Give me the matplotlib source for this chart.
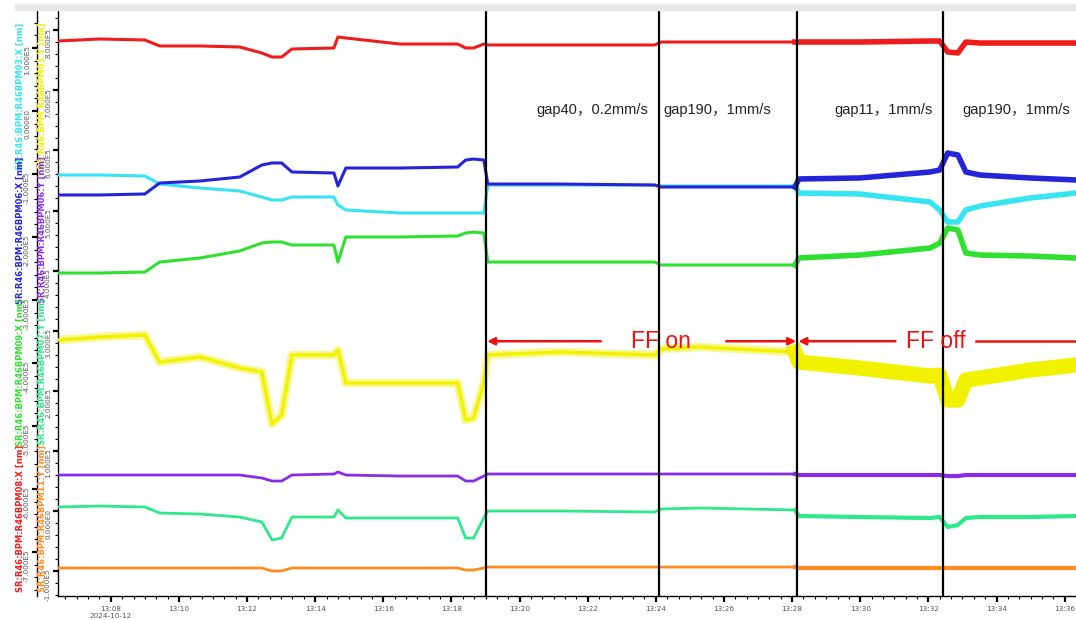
import matplotlib
matplotlib.use("Agg")
import matplotlib.pyplot as plt
import matplotlib.dates as mdates
import matplotlib.transforms as mtransforms
from matplotlib.ticker import FuncFormatter, MultipleLocator, AutoMinorLocator
from matplotlib.patches import Rectangle
import pandas as pd

DAY = "2024-10-12"

sample_times = ["13:06:27", "13:07:41", "13:09:00", "13:09:26", "13:10:37", "13:11:47",
                "13:12:26", "13:12:44", "13:13:01", "13:13:19", "13:14:33", "13:14:40",
                "13:14:54", "13:16:29", "13:18:11", "13:18:25", "13:18:39", "13:18:57",
                "13:19:04", "13:21:11", "13:23:58", "13:24:09", "13:25:18", "13:28:05",
                "13:28:12", "13:29:59", "13:32:03", "13:32:20", "13:32:34", "13:32:52",
                "13:33:06", "13:33:31", "13:34:59", "13:36:20"]

# horizontal BPM readings [nm] (outer axis)
bpm08_x = [111100, 114300, 112700, 103200, 103200, 101600, 92100, 85700, 85700, 98400,
           100000, 117500, 115900, 106300, 106300, 100000, 100000, 106300, 104800, 104800,
           104800, 109500, 109500, 109500, 109500, 109500, 111100, 111100, 93700, 92100,
           109500, 107900, 107900, 107900]
bpm03_x = [-101600, -101600, -103200, -115900, -122200, -127000, -136500, -141300, -141300,
           -136500, -136500, -149200, -157100, -161900, -161900, -161900, -161900, -161900,
           -117500, -117500, -117500, -119000, -119000, -119000, -130200, -131700, -144400,
           -157100, -176200, -176200, -157100, -150800, -138100, -130200]
bpm06_x = [-133300, -133300, -131700, -114300, -111100, -104800, -85700, -82500, -82500,
           -96800, -98400, -119000, -90500, -90500, -88900, -77800, -76200, -77800,
           -115900, -115900, -117500, -120600, -120600, -120600, -107900, -106300, -96800,
           -93700, -66700, -69800, -96800, -101600, -106300, -109500]
bpm09_x = [-257100, -257100, -255600, -239700, -233300, -222200, -209500, -207900, -207900,
           -212700, -212700, -239700, -200000, -200000, -198400, -193700, -192100, -193700,
           -239700, -239700, -239700, -244400, -244400, -244400, -233300, -228600, -217500,
           -209500, -185700, -188900, -225400, -228600, -230200, -233300]

# vertical BPM readings [nm] (inner axis)
bpm03_y = [284500, 289500, 292800, 247900, 256200, 237900, 231300, 144800, 159700, 259600,
           259600, 267900, 213000, 213000, 213000, 151400, 154700, 213000, 259600, 264600,
           259600, 269600, 272900, 264600, 247900, 237900, 224600, 226300, 184700, 184700,
           218000, 221300, 234600, 242900]
bpm06_y = [59900, 59900, 59900, 59900, 59900, 59900, 54900, 49900, 49900, 59900,
           61600, 64900, 59900, 58200, 58200, 49900, 49900, 58200, 61600, 61600,
           61600, 61600, 61600, 61600, 59900, 59900, 59900, 59900, 58200, 58200,
           59900, 59900, 59900, 59900]
bpm07_y = [6700, 8300, 6700, -3300, -5000, -10000, -18300, -48300, -44900, -10000,
           -10000, 1700, -11600, -11600, -11600, -44900, -44900, -11600, 0, 0,
           -1700, 3300, 5000, 1700, -8300, -10000, -11600, -10000, -26600, -23300,
           -11600, -10000, -10000, -8300]
bpm11_y = [-94800, -94800, -94800, -94800, -94800, -94800, -94800, -99800, -99800, -94800,
           -94800, -94800, -94800, -94800, -94800, -98200, -98200, -94800, -93200, -93200,
           -93200, -93200, -93200, -93200, -94800, -94800, -94800, -94800, -94800, -94800,
           -94800, -94800, -94800, -94800]

marker_times = ["13:19:00", "13:24:05", "13:28:08", "13:32:26"]
gap_labels = ["gap40，0.2mm/s", "gap190，1mm/s", "gap11，1mm/s", "gap190，1mm/s"]
gap_label_times = ["13:20:29", "13:24:13", "13:29:15", "13:33:00"]
x_range = ["13:06:27", "13:36:20"]

RED = "#ee1c1c"
CYAN = "#38e4f2"
BLUE = "#2424d8"
GREEN = "#30e030"
YELLOW = "#f2f200"
PURPLE = "#8a2be8"
TEAL = "#2ee88a"
ORANGE = "#ff8c1e"

x_traces = [("SR:R46:BPM:R46BPM03:X [nm]", bpm03_x, CYAN),
            ("SR:R46:BPM:R46BPM06:X [nm]", bpm06_x, BLUE),
            ("SR:R46:BPM:R46BPM09:X [nm]", bpm09_x, GREEN),
            ("SR:R46:BPM:R46BPM08:X [nm]", bpm08_x, RED)]
y_traces = [("SR:R46:BPM:R46BPM03:Y [nm]", bpm03_y, YELLOW),
            ("SR:R46:BPM:R46BPM06:Y [nm]", bpm06_y, PURPLE),
            ("SR:R46:BPM:R46BPM07:Y [nm]", bpm07_y, TEAL),
            ("SR:R46:BPM:R46BPM11:Y [nm]", bpm11_y, ORANGE)]


def stamp(s):
    return pd.Timestamp(f"{DAY} {s}")


def tnum(s):
    return mdates.date2num(stamp(s))


t = pd.to_datetime([f"{DAY} {s}" for s in sample_times])
ff_off_start = stamp(marker_times[2])
late_from = [i for i, ts in enumerate(t) if ts >= ff_off_start][0] - 1


def sci(v, pos):
    mant, exp = f"{v:.3E}".split("E")
    return f"{mant}E{int(exp)}"


W, H = 1076, 620
fig = plt.figure(figsize=(W / 100, H / 100), dpi=100)
ax = fig.add_axes([58 / W, 1 - 596 / H, 1 - 58 / W, (596 - 9) / H])
ax2 = ax.twinx()

# window chrome strip along the top
fig.patches.append(Rectangle((15 / W, 1 - 10 / H), 1 - 15 / W, 6 / H,
                             transform=fig.transFigure, color="#e8e8e8", zorder=0))

# vertical plane readings on the inner axis
for name, vals, col in y_traces:
    if col == YELLOW:
        ax.plot(t, vals, color="#f8f890", lw=6, solid_capstyle="butt", zorder=2)
        ax.plot(t[late_from:], vals[late_from:], color=YELLOW, lw=11, zorder=2)
        ax.plot(t, vals, color=YELLOW, lw=2.4, zorder=3)
    else:
        ax.plot(t, vals, color=col, lw=2.0, zorder=3)
        ax.plot(t[late_from:], vals[late_from:], color=col, lw=3.0, zorder=3)

# horizontal plane readings on the outer axis
for name, vals, col in x_traces:
    ax2.plot(t, vals, color=col, lw=2.2, zorder=3)
    ax2.plot(t[late_from:], vals[late_from:], color=col, lw=4.0, zorder=3)

ax.set_xlim(stamp(x_range[0]), stamp(x_range[1]))
ax.set_ylim(-141400, 835300)
ax2.set_ylim(-769800, 161900)

for a in (ax, ax2):
    for side in ("top", "right", "bottom"):
        a.spines[side].set_visible(False)
ax.spines["bottom"].set_visible(True)
ax.spines["left"].set_linewidth(1.0)
ax.spines["bottom"].set_linewidth(1.0)

ax2.yaxis.tick_left()
ax2.spines["left"].set_visible(True)
ax2.spines["left"].set_position(("outward", 15.1))
ax2.spines["left"].set_linewidth(1.0)

for a in (ax, ax2):
    a.yaxis.set_major_locator(MultipleLocator(100000))
    a.yaxis.set_minor_locator(AutoMinorLocator(5))
    a.yaxis.set_major_formatter(FuncFormatter(sci))
    a.tick_params(axis="y", which="major", direction="out", length=3.5, width=1.6,
                  labelsize=5.2, labelcolor="#555555", labelrotation=90, pad=1.5)
    a.tick_params(axis="y", which="minor", direction="out", length=2, width=0.8)


def time_label(v, pos):
    d = mdates.num2date(v)
    s = d.strftime("%H:%M")
    if pos == 0:
        s += "\n" + DAY
    return s


ax.xaxis.set_major_locator(mdates.MinuteLocator(byminute=range(0, 60, 2)))
ax.xaxis.set_minor_locator(mdates.SecondLocator(bysecond=[0, 20, 40]))
ax.xaxis.set_major_formatter(FuncFormatter(time_label))
ax.tick_params(axis="x", which="major", direction="out", length=4, width=1.6,
               labelsize=5.2, labelcolor="#555555", pad=3)
ax.tick_params(axis="x", which="minor", direction="out", length=2, width=0.8)

# stacked, colour-coded axis titles
title_centres = [96, 230, 372, 518]
for (name, _, col), yc in zip(x_traces, title_centres):
    fig.text(20 / W, 1 - yc / H, name, rotation=90, color=col, fontsize=6,
             fontweight="bold", ha="center", va="center")
for (name, _, col), yc in zip(y_traces, title_centres):
    fig.text(42 / W, 1 - yc / H, name, rotation=90, color=col, fontsize=6,
             fontweight="bold", ha="center", va="center")

# operation boundaries
for m in marker_times:
    ax2.axvline(tnum(m), color="black", lw=1.6, zorder=6)

blend = mtransforms.blended_transform_factory(ax2.transData, ax2.transAxes)
for lbl, tm in zip(gap_labels, gap_label_times):
    ax2.text(tnum(tm), 0.828, lbl, transform=blend, fontsize=10.5, color="#222222",
             ha="left", va="center", family=["Liberation Sans", "Noto Sans CJK SC"], zorder=7)

arrow_y = 0.434
ff_red = "#ee1111"
arrow_kw = dict(arrowstyle="-|>", color=ff_red, lw=1.8, mutation_scale=11,
                shrinkA=0, shrinkB=0)
for head, tail in [("13:19:03", "13:22:23"), ("13:28:07", "13:26:04"),
                   ("13:28:11", "13:31:02")]:
    ax2.annotate("", xy=(tnum(head), arrow_y), xytext=(tnum(tail), arrow_y),
                 xycoords=blend, textcoords=blend, arrowprops=arrow_kw, zorder=7)
ax2.plot([tnum("13:33:24"), tnum(x_range[1])], [arrow_y, arrow_y], transform=blend,
         color=ff_red, lw=1.8, zorder=7)
ff_font = ["Liberation Sans"]
ax2.text(tnum("13:24:09"), arrow_y, "FF on", transform=blend, fontsize=16.5, color=ff_red,
         ha="center", va="center", family=ff_font, zorder=7)
ax2.text(tnum("13:32:13"), arrow_y, "FF off", transform=blend, fontsize=16.5, color=ff_red,
         ha="center", va="center", family=ff_font, zorder=7)

fig.savefig("out.png", dpi=100)
